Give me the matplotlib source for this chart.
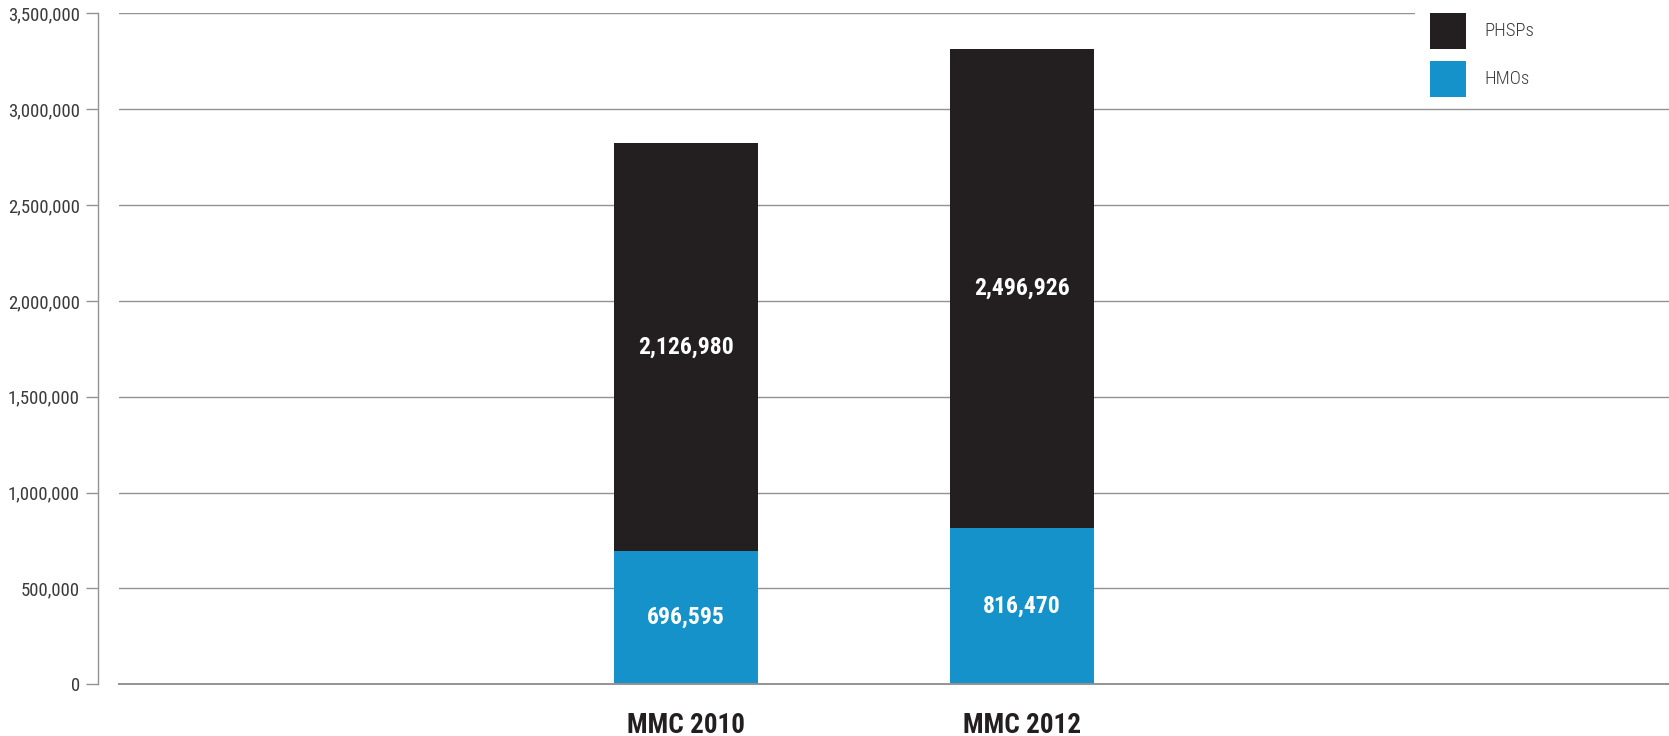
import matplotlib.pyplot as plt
from matplotlib.patches import Rectangle
from matplotlib.ticker import FuncFormatter

plt.rcParams['font.family'] = ['Roboto Condensed', 'DejaVu Sans']

# enrolment by plan type
categories = ["MMC 2010", "MMC 2012"]
hmos = [696595, 816470]
phsps = [2126980, 2496926]
series_names = ["PHSPs", "HMOs"]

black = "#231f20"
blue = "#1592ca"
grid_gray = "#939393"
text_gray = "#3a3a3a"

fig = plt.figure(figsize=(16.69, 7.36), dpi=100)
ax = fig.add_axes([119 / 1669, 51.7 / 736, 1550 / 1669, 671 / 736])

x = list(range(len(categories)))
width = 0.427
ax.bar(x, hmos, width, color=blue, zorder=3)
ax.bar(x, phsps, width, bottom=hmos, color=black, zorder=3)

for i in x:
    ax.text(i, hmos[i] / 2, f"{hmos[i]:,}", ha="center", va="center",
            color="white", fontsize=17, fontweight="bold", zorder=4)
    ax.text(i, hmos[i] + phsps[i] / 2, f"{phsps[i]:,}", ha="center", va="center",
            color="white", fontsize=17, fontweight="bold", zorder=4)

ax.set_xlim(-1.687, 2.926)
ax.set_ylim(0, 3500000)
ax.set_yticks(range(0, 3500001, 500000))
ax.yaxis.set_major_formatter(FuncFormatter(lambda v, p: f"{int(v):,}"))
ax.set_xticks(x)
ax.set_xticklabels(categories, fontsize=19.5, fontweight="bold", color=black)
ax.tick_params(axis="x", length=0, pad=20)
ax.tick_params(axis="y", length=8.6, width=1.0, color=grid_gray, pad=4.3,
               labelsize=13.5, labelcolor=text_gray)
for lbl in ax.get_yticklabels():
    lbl.set_fontweight(300)

ax.grid(axis="y", color=grid_gray, linewidth=1.0, zorder=0)
# baseline sits on top of the bars' bottom edge
ax.axhline(0, color=grid_gray, linewidth=1.4, zorder=4, clip_on=False)
for side in ["top", "right", "bottom"]:
    ax.spines[side].set_visible(False)
ax.spines["left"].set_position(("outward", 15.3))
ax.spines["left"].set_color(grid_gray)
ax.spines["left"].set_linewidth(1.0)

# legend block, white background over the top gridline
W, H = 1669, 736
fig.add_artist(Rectangle((1415 / W, 1 - 100 / H), 254 / W, 100 / H,
                         transform=fig.transFigure, facecolor="white",
                         edgecolor="none", zorder=5))
for name, color, yc in zip(series_names, [black, blue], [31, 79]):
    fig.add_artist(Rectangle((1430 / W, 1 - (yc + 18) / H), 36 / W, 36 / H,
                             transform=fig.transFigure, facecolor=color,
                             edgecolor="none", zorder=6))
    fig.text(1484 / W, 1 - yc / H, name, ha="left", va="center",
             fontsize=13.5, fontweight=300, color=text_gray, zorder=7)

fig.savefig("out.png", dpi=100)
